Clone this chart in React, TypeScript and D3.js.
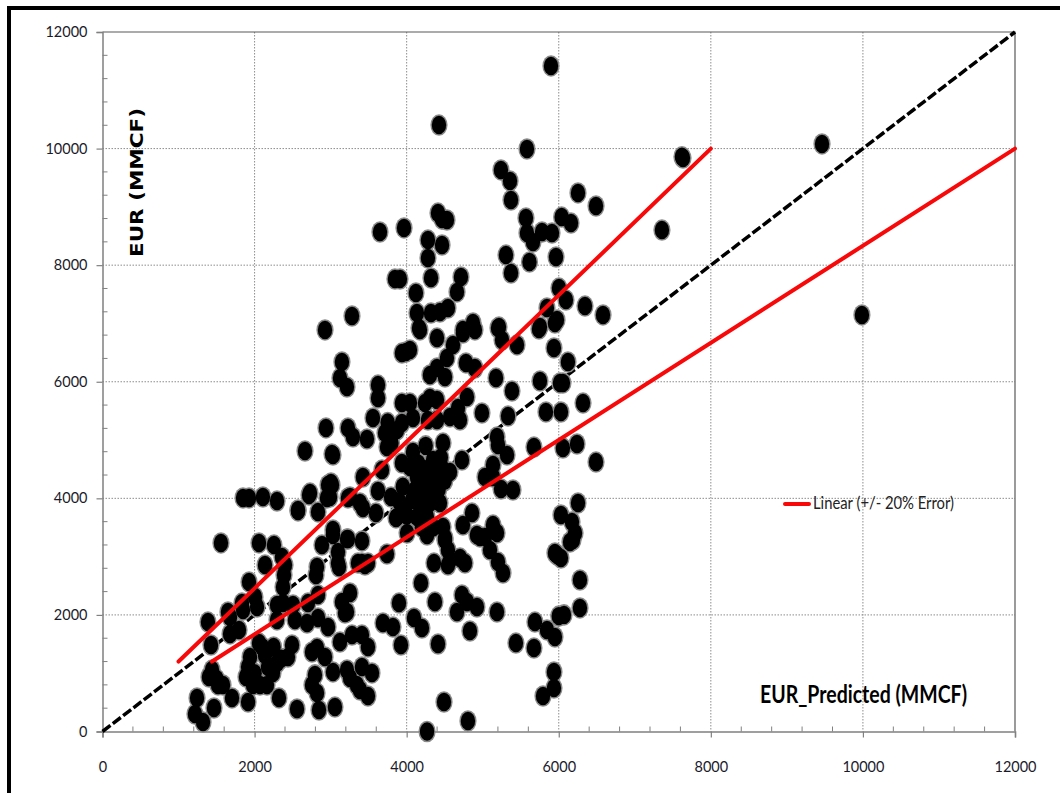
import * as d3 from "d3";
import { useEffect, useRef } from "react";

// [EUR_Predicted, EUR] in MMCF
const outlierWells: [number, number][] = [
  [5898, 11417], [4425, 10404], [5582, 9993], [7634, 9838], [7620, 9860], [9462, 10079], [9987, 7146], [7357, 8603],
];

const upperWells: [number, number][] = [
  [5240, 9633], [5359, 9445], [5372, 9118], [6253, 9239], [6490, 9015], [3649, 8569], [3965, 8638], [4412, 8894],
  [4530, 8775], [4465, 8790], [4280, 8431], [4465, 8346], [4280, 8123], [4320, 7780], [3846, 7762], [3912, 7762],
  [4122, 7523], [4714, 7797], [4662, 7540], [4135, 7179], [4320, 7179], [4438, 7196], [4543, 7265], [4162, 6921],
  [4399, 6750], [5214, 6939], [4872, 7008], [4740, 6888], [5306, 8174], [5372, 7865], [5569, 8809], [5582, 8552],
  [5661, 8397], [5615, 8054], [5780, 8569], [5911, 8552], [5964, 8140], [6038, 8826], [6161, 8723], [6003, 7608],
  [6095, 7402], [6345, 7299], [6582, 7146], [5845, 7265], [5977, 7060], [5753, 6939], [3281, 7128], [2926, 6888],
];

const middleWells: [number, number][] = [
  [4175, 6888], [5201, 6922], [5254, 6716], [5451, 6631], [5740, 6905], [5950, 7008], [5937, 6579], [6121, 6339],
  [5753, 6013], [6016, 5979], [6055, 5979], [6319, 5635], [5832, 5481], [6029, 5481], [6240, 4932], [6055, 4863],
  [6490, 4623], [5674, 4880], [5385, 5841], [5175, 6064], [4990, 5464], [5333, 5412], [5188, 5052], [5201, 4915],
  [5320, 4743], [5135, 4572], [5030, 4366], [5241, 4160], [5398, 4143], [5135, 4366], [3938, 5635], [4043, 5635],
  [4241, 5635], [4399, 5687], [4306, 5721], [4793, 5738], [4675, 5550], [4570, 5395], [4701, 5344], [4399, 5344],
  [4280, 5344], [4083, 5378], [3938, 5292], [3873, 5172], [3715, 5121], [3741, 4880], [3478, 5018], [3557, 5378],
  [3228, 5207], [3294, 5052], [3623, 5944], [3623, 5721], [3149, 6339], [3123, 6064], [3215, 5910], [3990, 6510],
  [3938, 6493], [4043, 6545], [4306, 6116], [4399, 6236], [4504, 6081], [4530, 6408], [4609, 6631], [4740, 6836],
  [4898, 6888], [4780, 6322], [4898, 6236], [2939, 5207], [2663, 4812], [3018, 4760], [3800, 4950], [3750, 5300],
];

const centralWells: [number, number][] = [
  [4727, 4657], [4478, 4949], [4570, 4452], [4438, 3920], [4346, 4657], [4083, 4795], [3938, 4606], [4043, 4537],
  [4135, 4366], [4333, 4366], [4465, 4520], [4109, 4143], [4267, 4143], [4070, 3971], [4306, 3920], [4175, 3748],
  [3978, 3800], [3860, 3663], [4135, 3680], [4267, 3680], [3794, 4023], [3623, 4126], [3675, 4486], [3425, 4366],
  [3255, 4023], [3386, 3920], [3425, 3834], [3596, 3748], [3018, 4229], [2992, 4023], [3031, 4743], [3873, 3680],
  [4859, 3748], [4740, 3542], [4924, 3371], [5135, 3542], [5030, 3337], [4478, 3508], [4504, 3285], [4570, 2942],
  [4268, 3371], [4005, 3405], [3741, 3045], [3412, 2890], [3491, 2890], [3412, 3268], [3215, 3302], [3031, 3371],
  [3097, 3079], [3097, 2890], [4359, 2890], [4543, 2856], [4701, 2976], [4767, 2890], [4504, 3319], [4543, 3113],
  [5096, 3113], [5201, 2907], [5267, 2719], [4964, 3337], [5188, 3405], [4150, 4600], [4250, 4500], [4200, 4250],
  [4350, 4200], [4150, 4000], [4000, 3700], [4420, 4150], [4350, 3500], [4200, 3500], [4450, 4700], [4250, 4900],
  [4100, 4500], [3950, 4200], [3900, 3950], [4380, 4000], [4230, 3850], [4500, 4300],
];

const rightWells: [number, number][] = [
  [6253, 3920], [6029, 3714], [6174, 3594], [6214, 3405], [6148, 3251], [5977, 3028], [6029, 2976], [6187, 3285],
  [5950, 3062], [6279, 2599], [6279, 2119], [6069, 2000], [6000, 1980], [5188, 2050], [5687, 1878], [5845, 1741],
  [5950, 1621], [5437, 1518], [5674, 1432], [5937, 1021], [5937, 746], [5793, 609], [4491, 506], [4806, 180],
  [4268, 0], [4188, 2547], [3899, 2204], [4372, 2222], [4727, 2342], [4793, 2222], [4924, 2136], [4662, 2050],
  [4832, 1724], [3688, 1861], [3820, 1792], [3925, 1484], [4096, 1947], [4201, 1775], [4412, 1501],
];

const lowerWells: [number, number][] = [
  [1848, 4006], [1927, 4006], [2110, 4023], [2295, 3954], [2571, 3783], [2716, 4057], [2834, 3766], [2966, 4229],
  [3228, 4006], [1558, 3234], [2058, 3234], [2255, 3199], [2137, 2856], [2360, 2994], [2400, 2856], [2387, 2685],
  [2374, 2479], [1927, 2565], [1834, 2204], [2005, 2307], [2032, 2136], [1650, 2050], [1387, 1878], [2886, 3199],
  [3228, 3302], [3110, 2822], [2821, 2822], [2808, 2685], [3360, 2890], [3452, 2856], [2295, 2170], [2374, 2204],
  [2505, 2170], [2702, 2204], [2834, 2342], [3255, 2376], [3149, 2222], [3215, 2050], [3005, 4263], [2729, 4091],
  [2571, 3800], [2952, 4006], [1677, 1673], [1795, 1741], [1427, 1484], [2058, 1518], [1940, 1278], [1914, 1107],
  [1887, 935], [2137, 1312], [2176, 1107], [2295, 1175], [2242, 1004], [2492, 1484], [2439, 1278], [2755, 1364],
  [2821, 1432], [2794, 971], [2755, 798], [2821, 660], [2926, 1278], [3031, 1021], [3123, 1535], [3281, 1655],
  [3412, 1655], [3491, 1450], [3412, 1107], [3544, 1004], [3215, 1055], [3255, 918], [3386, 712], [3491, 609],
  [3346, 798], [1400, 935], [1519, 798], [1440, 1055], [1585, 798], [1466, 403], [1703, 575], [1914, 506],
  [2321, 575], [2558, 386], [2847, 369], [3057, 420], [1243, 575], [1216, 300], [1322, 163], [1979, 798],
  [2071, 798], [2163, 798], [2295, 1913], [2531, 1913], [2690, 1861], [2834, 1947], [2966, 1792], [3189, 2033],
  [1848, 2084], [1677, 1964], [3031, 3457], [2100, 1450], [2250, 1450], [2350, 1250], [2000, 1000], [1500, 900],
];

const wells = [...outlierWells, ...upperWells, ...middleWells, ...centralWells, ...rightWells, ...lowerWells];

const unityLine: [number, number][] = [[0, 0], [12000, 12000]];
const upperErrorLine: [number, number][] = [[1000, 1200], [8000, 10000]];
const lowerErrorLine: [number, number][] = [[1440, 1200], [12000, 10000]];

const majorTicks = [0, 2000, 4000, 6000, 8000, 10000, 12000];
const minorTicks = d3.range(0, 12001, 400).filter((d) => d % 2000 !== 0);

const width = 1060;
const height = 793;
const left = 102.5;
const right = 1015;
const top = 32;
const bottom = 731.5;
const labelFont = "Lato, sans-serif";

export default function App() {
  const ref = useRef<SVGSVGElement>(null);

  useEffect(() => {
    const svg = d3.select(ref.current);
    svg.selectAll("*").remove();

    const x = d3.scaleLinear().domain([0, 12000]).range([left, right]);
    const y = d3.scaleLinear().domain([0, 12000]).range([bottom, top]);
    const line = d3.line<[number, number]>().x((d) => x(d[0])).y((d) => y(d[1]));

    const defs = svg.append("defs");
    defs.append("filter").attr("id", "soft").append("feGaussianBlur").attr("stdDeviation", 0.7);

    // page frame, open on the right
    svg.append("rect").attr("x", 7).attr("y", 6).attr("width", width).attr("height", 4).attr("fill", "#000");
    svg.append("rect").attr("x", 7).attr("y", 6).attr("width", 4).attr("height", height).attr("fill", "#000");

    // grid
    const grid = svg.append("g").attr("stroke", "#8c8c8c").attr("stroke-dasharray", "1.5 1.5").attr("fill", "none");
    majorTicks.slice(1, -1).forEach((t) => {
      grid.append("line").attr("x1", x(t)).attr("x2", x(t)).attr("y1", top).attr("y2", bottom);
      grid.append("line").attr("x1", left).attr("x2", right).attr("y1", y(t)).attr("y2", y(t));
    });

    // top and right edges of the plot
    svg.append("path")
      .attr("d", `M${left},${top}H${right}V${bottom}`)
      .attr("fill", "none")
      .attr("stroke", "#595959")
      .attr("stroke-width", 1.2);

    // axes
    const xAxis = d3.axisBottom(x).tickValues(majorTicks).tickSize(6).tickPadding(24).tickFormat(d3.format("d"));
    const yAxis = d3.axisLeft(y).tickValues(majorTicks).tickSize(6).tickPadding(9).tickFormat(d3.format("d"));
    const gx = svg.append("g").attr("transform", `translate(0,${bottom})`).call(xAxis as any);
    const gy = svg.append("g").attr("transform", `translate(${left},0)`).call(yAxis as any);
    [gx, gy].forEach((g) => {
      g.selectAll("path").attr("stroke", "#808080").attr("stroke-width", 1.5);
      g.selectAll("line").attr("stroke", "#808080").attr("stroke-width", 1.2);
      g.selectAll("text").attr("font-family", labelFont).attr("font-size", 14.5).attr("fill", "#1a1a2a");
    });

    minorTicks.forEach((t) => {
      svg.append("line").attr("x1", x(t)).attr("x2", x(t)).attr("y1", bottom - 5).attr("y2", bottom).attr("stroke", "#808080");
      svg.append("line").attr("x1", left).attr("x2", left + 5).attr("y1", y(t)).attr("y2", y(t)).attr("stroke", "#808080");
    });

    // unity line sits under the dots
    svg.append("path")
      .attr("d", line(unityLine))
      .attr("fill", "none")
      .attr("stroke", "#000")
      .attr("stroke-width", 3.5)
      .attr("stroke-dasharray", "10 3")
      .attr("filter", "url(#soft)");

    // halo first, then all the fills, so overlapping dots merge into one blob
    const dots = svg.append("g").attr("filter", "url(#soft)");
    dots.append("g").selectAll("ellipse").data(wells).join("ellipse")
      .attr("cx", (d) => x(d[0])).attr("cy", (d) => y(d[1]))
      .attr("rx", 8.6).attr("ry", 10.8).attr("fill", "#8a8a8a");
    dots.append("g").selectAll("ellipse").data(wells).join("ellipse")
      .attr("cx", (d) => x(d[0])).attr("cy", (d) => y(d[1]))
      .attr("rx", 7.2).attr("ry", 9.2).attr("fill", "#000");

    [upperErrorLine, lowerErrorLine].forEach((d) => {
      svg.append("path")
        .attr("d", line(d))
        .attr("fill", "none")
        .attr("stroke", "#f80808")
        .attr("stroke-width", 4)
        .attr("stroke-linecap", "round");
    });

    // legend
    svg.append("line").attr("x1", 785).attr("x2", 809).attr("y1", 504).attr("y2", 504)
      .attr("stroke", "#f80808").attr("stroke-width", 4).attr("stroke-linecap", "round");
    svg.append("text").attr("x", 813).attr("y", 509)
      .attr("font-family", labelFont).attr("font-size", 17).attr("fill", "#222")
      .attr("textLength", 141).attr("lengthAdjust", "spacingAndGlyphs")
      .text("Linear (+/- 20% Error)");

    // axis titles
    svg.append("text").attr("transform", "translate(143,257) rotate(-90)")
      .attr("font-family", "DejaVu Sans, sans-serif").attr("font-weight", "bold").attr("font-size", 18).attr("fill", "#000")
      .attr("textLength", 149).attr("lengthAdjust", "spacingAndGlyphs")
      .text("EUR (MMCF)");
    svg.append("text").attr("x", 760).attr("y", 703)
      .attr("font-family", labelFont).attr("font-weight", "bold").attr("font-size", 24).attr("fill", "#000")
      .attr("textLength", 207).attr("lengthAdjust", "spacingAndGlyphs")
      .text("EUR_Predicted (MMCF)");
  }, []);

  return (
    <svg
      ref={ref}
      width={width}
      height={height}
      style={{ position: "fixed", left: 0, top: 0, background: "#fff", display: "block" }}
    />
  );
}
